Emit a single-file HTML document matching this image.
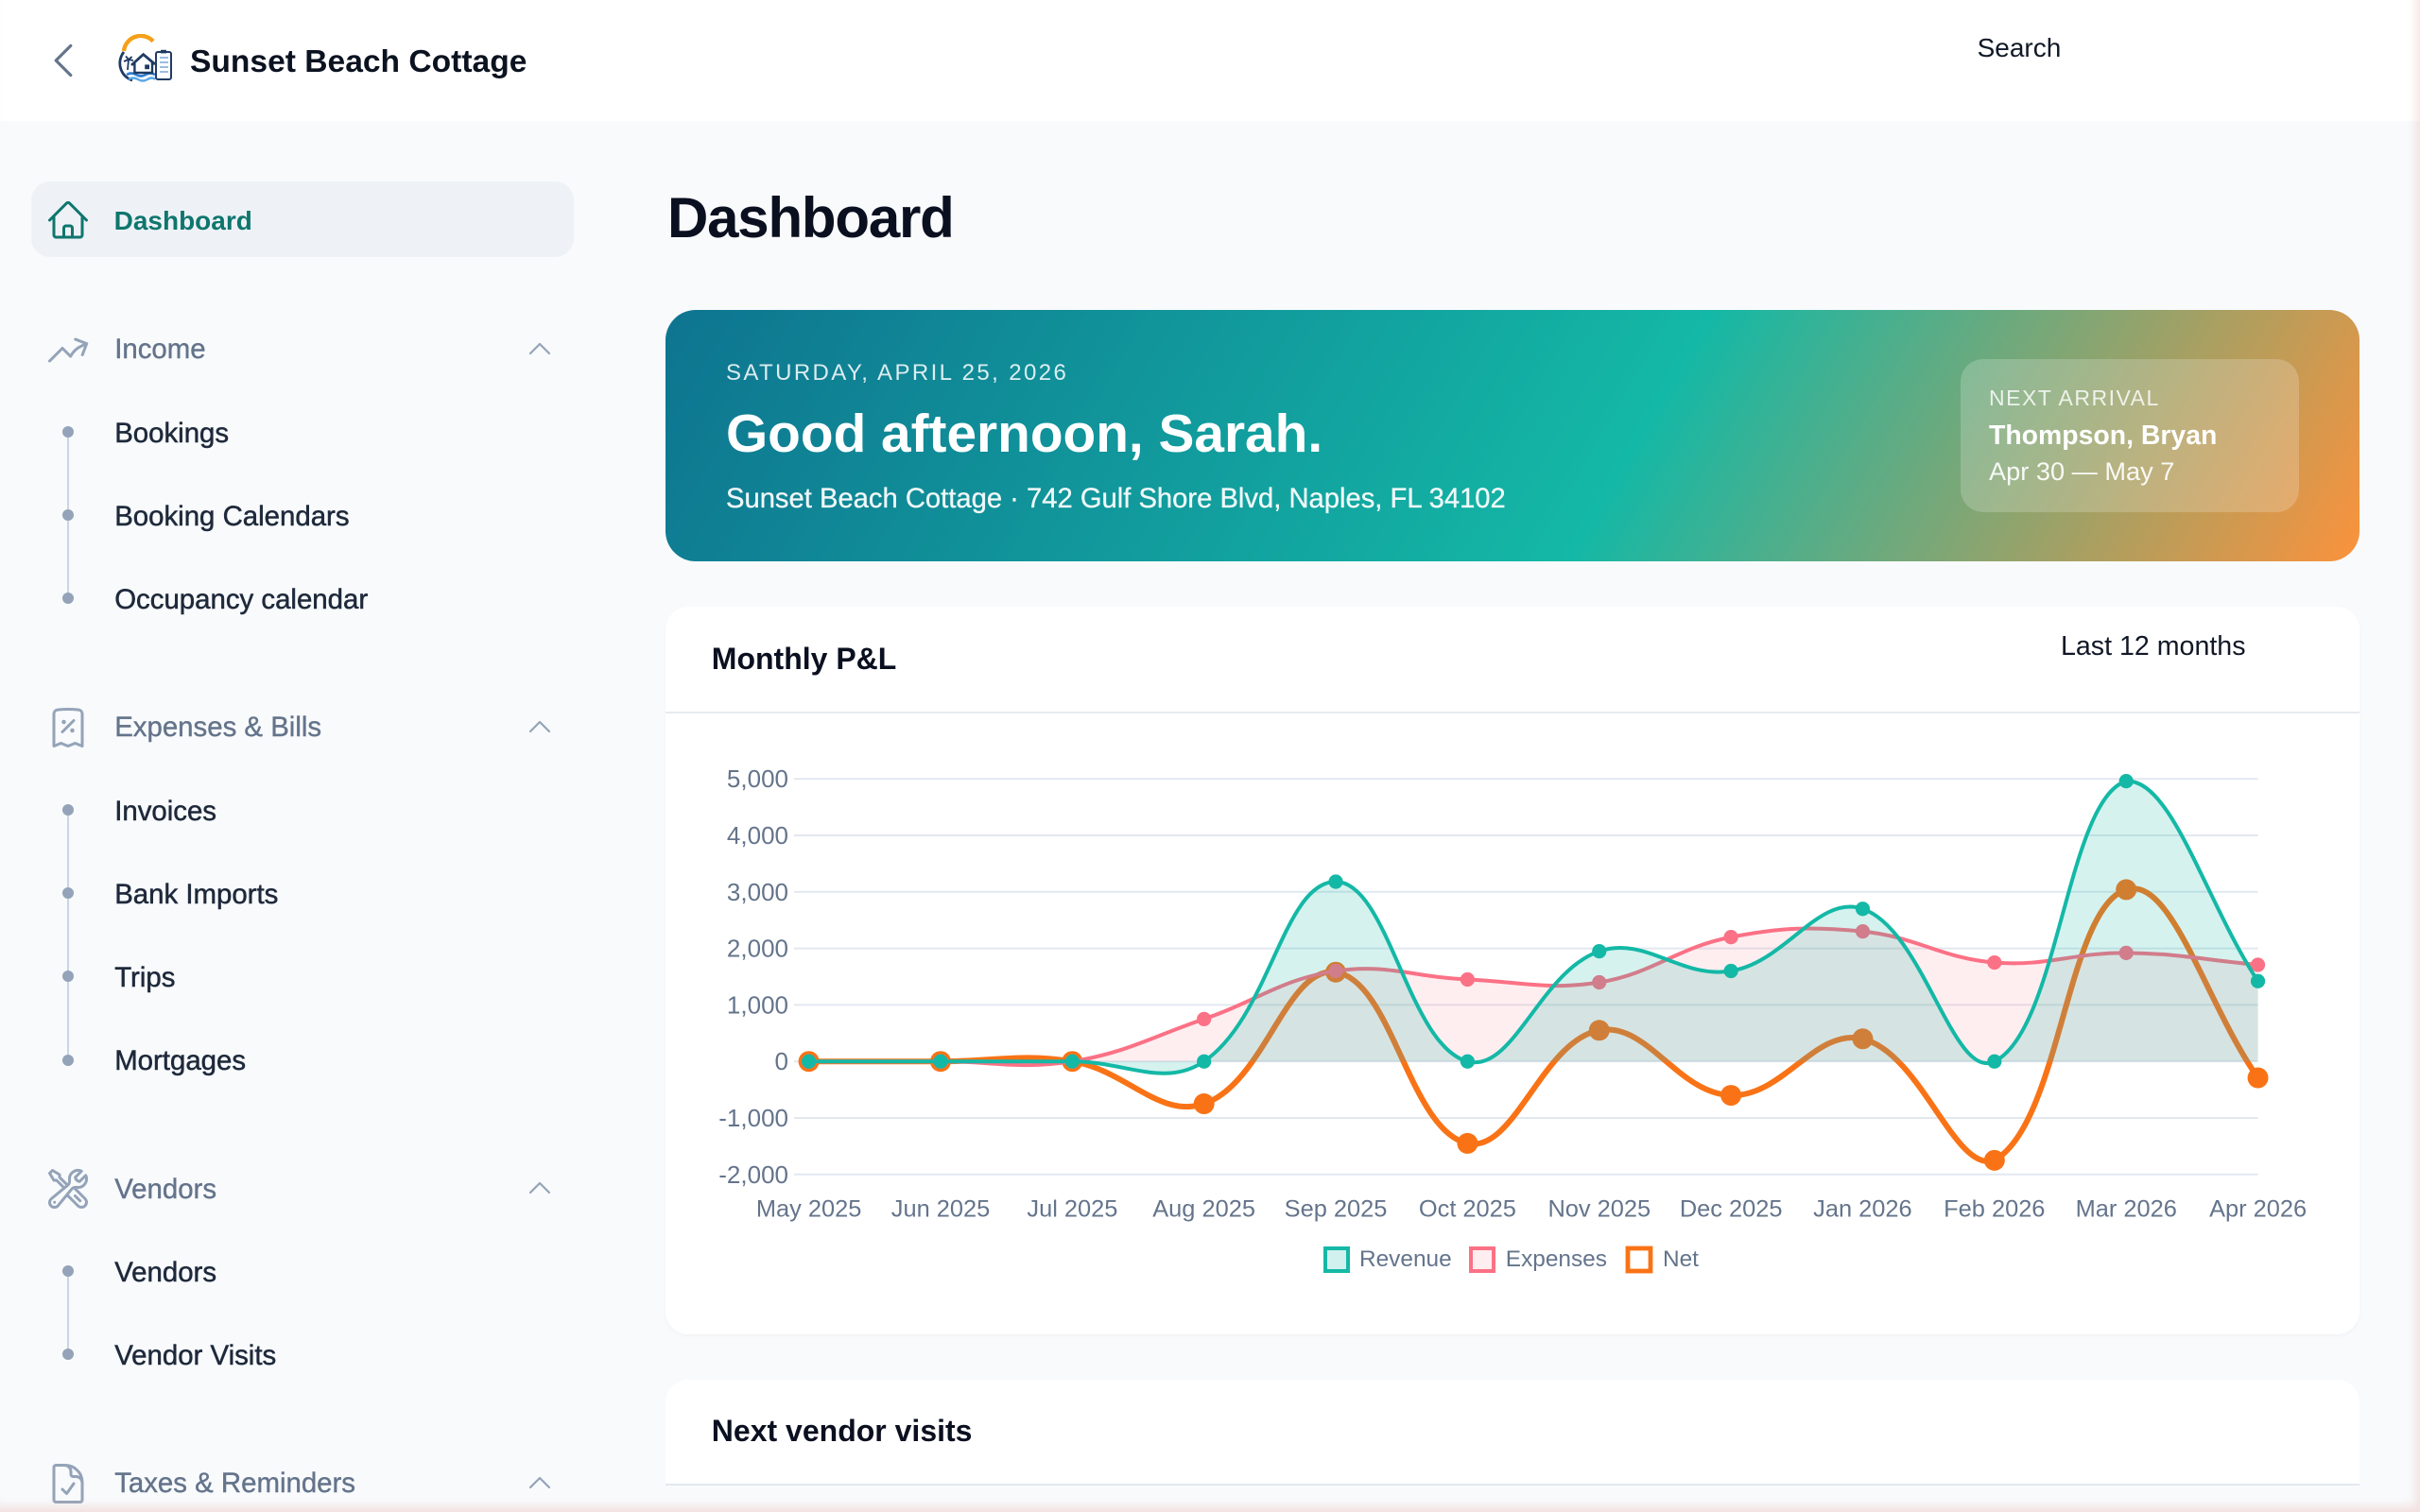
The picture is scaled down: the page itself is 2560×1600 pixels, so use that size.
<!DOCTYPE html>
<html><head><meta charset="utf-8">
<style>
html,body{margin:0;padding:0;width:2560px;height:1600px;overflow:hidden;background:#f8fafc;}
#root{position:relative;width:1280px;height:800px;zoom:2;font-family:"Liberation Sans",sans-serif;overflow:hidden;background:#f8fafc;}
.a{position:absolute;white-space:nowrap;}
.t{position:absolute;white-space:nowrap;line-height:20px;}
.hd{font-size:14.7px;color:#64748b;left:60.6px;-webkit-text-stroke:0.2px #64748b;}
.it{font-size:14.7px;color:#1e293b;left:60.6px;-webkit-text-stroke:0.25px #1e293b;}
.dot{position:absolute;left:33px;width:6px;height:6px;border-radius:50%;background:#94a3b8;}
.vl{position:absolute;left:35.5px;width:1px;background:#cbd5e1;}
.ic{position:absolute;left:24px;}
.cv{position:absolute;left:277.7px;}
</style></head>
<body><div id="root">

<!-- header -->
<div class="a" style="left:0;top:0;width:1280px;height:64px;background:#fff"></div>
<svg class="a" style="left:21px;top:19.5px" width="25" height="25" viewBox="0 0 24 24" fill="none" stroke="#64748b" stroke-width="1.5" stroke-linecap="round" stroke-linejoin="round"><path d="M15.75 19.5 8.25 12l7.5-7.5"/></svg>
<svg class="a" style="left:60px;top:18px" width="36" height="30" viewBox="60 18 36 30" fill="none">
 <path d="M65.5 27 A 9 9 0 0 1 81 21.8" stroke="#f6a01a" stroke-width="2.2"/>
 <path d="M65.5 27.5 A 9.5 9.5 0 0 0 70 42.5" stroke="#1f3b63" stroke-width="1.4"/>
 <path d="M67 39.5 q2.5 -1.5 5 0 t5 0 t5 0" stroke="#2f80d1" stroke-width="1.3"/>
 <path d="M68 42 q2.5 -1.5 5 0 t5 0 t4 0" stroke="#5aa9e6" stroke-width="1.2"/>
 <path d="M69.5 34.5 L75.8 28.8 L82 34" stroke="#1f3b63" stroke-width="1.4"/>
 <path d="M71.2 33.5 V38.5 H80.5 V33" stroke="#1f3b63" stroke-width="1.2"/>
 <rect x="76.6" y="34.2" width="2.4" height="2.4" fill="#1f3b63"/>
 <rect x="82.5" y="27.5" width="8" height="14.5" rx="1" stroke="#1f3b63" stroke-width="1" fill="#fff"/>
 <rect x="85" y="26.4" width="3" height="1.8" fill="#1f3b63"/>
 <path d="M84.5 30.5h4.5M84.5 33h4.5M84.5 35.5h4.5M84.5 38h4.5" stroke="#7aa7d8" stroke-width="0.7"/>
 <path d="M67.5 37 L68 31.5 M68 31.5 l-2.5 1 M68 31.5 l2.5 0.5 M68 31.5 l-1.5 -1.8 M68 31.5 l1.8 -1.5" stroke="#1f3b63" stroke-width="0.9"/>
</svg>
<div class="t" style="left:100.5px;top:22.9px;font-size:16.8px;font-weight:700;color:#0b1220">Sunset Beach Cottage</div>
<div class="t" style="left:1045.8px;top:15.5px;font-size:14px;color:#111827">Search</div>

<!-- sidebar -->
<div class="a" style="left:16.3px;top:96px;width:287.3px;height:40px;background:#eef2f7;border-radius:10px"></div>
<svg class="ic" style="top:104.5px" width="24" height="24" viewBox="0 0 24 24" fill="none" stroke="#0f766e" stroke-width="1.5" stroke-linecap="round" stroke-linejoin="round"><path d="m2.25 12 8.954-8.955c.44-.439 1.152-.439 1.591 0L21.75 12M4.5 9.75v10.125c0 .621.504 1.125 1.125 1.125H9.75v-4.875c0-.621.504-1.125 1.125-1.125h2.25c.621 0 1.125.504 1.125 1.125V21h4.125c.621 0 1.125-.504 1.125-1.125V9.75M8.25 21h8.25"/></svg>
<div class="t" style="left:60.3px;top:106.8px;font-size:14px;font-weight:700;color:#0f766e">Dashboard</div>

<!-- Income -->
<svg class="ic" style="top:173px" width="24" height="24" viewBox="0 0 24 24" fill="none" stroke="#94a3b8" stroke-width="1.5" stroke-linecap="round" stroke-linejoin="round"><path d="M2.25 18 9 11.25l4.306 4.306a11.95 11.95 0 0 1 5.814-5.518l2.74-1.22m0 0-5.94-2.281m5.94 2.28-2.28 5.941"/></svg>
<div class="t hd" style="top:175.2px">Income</div>
<svg class="cv" style="top:176.5px" width="16" height="16" viewBox="0 0 24 24" fill="none" stroke="#94a3b8" stroke-width="1.6" stroke-linecap="round" stroke-linejoin="round"><path d="m4.5 15.75 7.5-7.5 7.5 7.5"/></svg>
<div class="vl" style="top:228.6px;height:88.1px"></div>
<div class="dot" style="top:225.6px"></div><div class="t it" style="top:219.4px">Bookings</div>
<div class="dot" style="top:269.6px"></div><div class="t it" style="top:263.4px">Booking Calendars</div>
<div class="dot" style="top:313.7px"></div><div class="t it" style="top:307.5px">Occupancy calendar</div>

<!-- Expenses -->
<svg class="ic" style="top:372.8px" width="24" height="24" viewBox="0 0 24 24" fill="none" stroke="#94a3b8" stroke-width="1.5" stroke-linecap="round" stroke-linejoin="round"><path d="m9 14.25 6-6m4.5-3.493V21.75l-3.75-1.5-3.75 1.5-3.750-1.5-3.75 1.5V4.757c0-1.108.806-2.057 1.907-2.185a48.507 48.507 0 0 1 11.186 0c1.1.128 1.907 1.077 1.907 2.185ZM9.75 9h.008v.008H9.75V9Zm.375 0a.375.375 0 1 1-.75 0 .375.375 0 0 1 .75 0Zm4.125 4.5h.008v.008h-.008V13.5Zm.375 0a.375.375 0 1 1-.75 0 .375.375 0 0 1 .75 0Z"/></svg>
<div class="t hd" style="top:375.2px">Expenses &amp; Bills</div>
<svg class="cv" style="top:376.5px" width="16" height="16" viewBox="0 0 24 24" fill="none" stroke="#94a3b8" stroke-width="1.6" stroke-linecap="round" stroke-linejoin="round"><path d="m4.5 15.75 7.5-7.5 7.5 7.5"/></svg>
<div class="vl" style="top:428.6px;height:132.2px"></div>
<div class="dot" style="top:425.6px"></div><div class="t it" style="top:419.4px">Invoices</div>
<div class="dot" style="top:469.6px"></div><div class="t it" style="top:463.4px">Bank Imports</div>
<div class="dot" style="top:513.7px"></div><div class="t it" style="top:507.5px">Trips</div>
<div class="dot" style="top:557.8px"></div><div class="t it" style="top:551.6px">Mortgages</div>

<!-- Vendors -->
<svg class="ic" style="top:617px" width="24" height="24" viewBox="0 0 24 24" fill="none" stroke="#94a3b8" stroke-width="1.5" stroke-linecap="round" stroke-linejoin="round"><path d="M11.42 15.17 17.25 21A2.652 2.652 0 0 0 21 17.25l-5.877-5.877M11.42 15.17l2.496-3.03c.317-.384.74-.626 1.208-.766M11.42 15.17l-4.655 5.653a2.548 2.548 0 1 1-3.586-3.586l6.837-5.63m5.108-.233c.55-.164 1.163-.188 1.743-.14a4.5 4.5 0 0 0 4.486-6.336l-3.276 3.277a3.004 3.004 0 0 1-2.25-2.25l3.276-3.276a4.5 4.5 0 0 0-6.336 4.486c.091 1.076-.071 2.264-.904 2.950l-.102.085m-1.745 1.437L5.909 7.5H4.5L2.250 3.75l1.5-1.5L7.5 4.5v1.409l4.26 4.26m-1.745 1.437 1.745-1.437m6.615 8.206L15.75 15.75M4.867 19.125h.008v.008h-.008v-.008Z"/></svg>
<div class="t hd" style="top:619.3px">Vendors</div>
<svg class="cv" style="top:620.6px" width="16" height="16" viewBox="0 0 24 24" fill="none" stroke="#94a3b8" stroke-width="1.6" stroke-linecap="round" stroke-linejoin="round"><path d="m4.5 15.75 7.5-7.5 7.5 7.5"/></svg>
<div class="vl" style="top:672.6px;height:44.1px"></div>
<div class="dot" style="top:669.6px"></div><div class="t it" style="top:663.4px">Vendors</div>
<div class="dot" style="top:713.7px"></div><div class="t it" style="top:707.5px">Vendor Visits</div>

<!-- Taxes -->
<svg class="ic" style="top:773px" width="24" height="24" viewBox="0 0 24 24" fill="none" stroke="#94a3b8" stroke-width="1.5" stroke-linecap="round" stroke-linejoin="round"><path d="M10.125 2.25h-4.5c-.621 0-1.125.504-1.125 1.125v17.25c0 .621.504 1.125 1.125 1.125h12.75c.621 0 1.125-.504 1.125-1.125v-9M10.125 2.25h.375a9 9 0 0 1 9 9v.375M10.125 2.25A3.375 3.375 0 0 1 13.5 5.625v1.5c0 .621.504 1.125 1.125 1.125h1.5a3.375 3.375 0 0 1 3.375 3.375M9 15l2.25 2.25L15 12"/></svg>
<div class="t hd" style="top:775.2px">Taxes &amp; Reminders</div>
<svg class="cv" style="top:776.5px" width="16" height="16" viewBox="0 0 24 24" fill="none" stroke="#94a3b8" stroke-width="1.6" stroke-linecap="round" stroke-linejoin="round"><path d="m4.5 15.75 7.5-7.5 7.5 7.5"/></svg>

<!-- main -->
<div class="a" style="left:353px;top:97.5px;line-height:36px;font-size:30px;font-weight:700;letter-spacing:-0.6px;color:#0b1020">Dashboard</div>

<div class="a" style="left:352px;top:164px;width:896px;height:133px;border-radius:16px;background:linear-gradient(120deg,#0e7490 0%,#14b8a6 57%,#fb923c 100%)"></div>
<div class="t" style="left:384px;top:187.5px;font-size:12px;letter-spacing:1.2px;color:rgba(255,255,255,0.85)">SATURDAY, APRIL 25, 2026</div>
<div class="a" style="left:384px;top:212.8px;line-height:34px;font-size:28.4px;font-weight:700;color:#fff">Good afternoon, Sarah.</div>
<div class="t" style="left:384px;top:253.8px;font-size:14.6px;color:rgba(255,255,255,0.93);-webkit-text-stroke:0.15px rgba(255,255,255,0.9)">Sunset Beach Cottage · 742 Gulf Shore Blvd, Naples, FL 34102</div>
<div class="a" style="left:1037px;top:190px;width:179px;height:81px;border-radius:12px;background:rgba(255,255,255,0.2)"></div>
<div class="t" style="left:1052px;top:200.5px;font-size:11.5px;letter-spacing:0.75px;color:rgba(255,255,255,0.82)">NEXT ARRIVAL</div>
<div class="t" style="left:1052px;top:220.6px;font-size:14.2px;font-weight:700;color:#fff">Thompson, Bryan</div>
<div class="t" style="left:1052px;top:239.4px;font-size:13.6px;color:rgba(255,255,255,0.92)">Apr 30 — May 7</div>

<!-- P&L card -->
<div class="a" style="left:352px;top:321px;width:896px;height:385px;border-radius:12px;background:#fff;box-shadow:0 1px 2px rgba(15,23,42,0.03)"></div>
<div class="a" style="left:352px;top:376.5px;width:896px;height:1px;background:#e6eaf0"></div>
<div class="t" style="left:376.4px;top:338.6px;font-size:16px;font-weight:700;color:#0b1020">Monthly P&amp;L</div>
<div class="t" style="left:1090px;top:332px;font-size:14.3px;color:#111827">Last 12 months</div>

<!-- vendor card -->
<div class="a" style="left:352px;top:730px;width:896px;height:100px;border-radius:12px;background:#fff"></div>
<div class="t" style="left:376.4px;top:747px;font-size:16px;font-weight:700;color:#0b1020">Next vendor visits</div>
<div class="a" style="left:352px;top:785px;width:896px;height:1px;background:#e2e8f0"></div>
<div class="a" style="left:352px;top:786px;width:896px;height:20px;background:#f8fafc"></div>

<svg class="a" id="chart" style="left:0;top:0;overflow:visible" width="1280" height="800" viewBox="0 0 1280 800" font-family="Liberation Sans, sans-serif">
 <g stroke="#e2e8f0" stroke-width="1">
  <line x1="420" x2="1194.3" y1="412.1" y2="412.1"/>
  <line x1="420" x2="1194.3" y1="442" y2="442"/>
  <line x1="420" x2="1194.3" y1="471.9" y2="471.9"/>
  <line x1="420" x2="1194.3" y1="501.8" y2="501.8"/>
  <line x1="420" x2="1194.3" y1="531.7" y2="531.7"/>
  <line x1="420" x2="1194.3" y1="561.6" y2="561.6"/>
  <line x1="420" x2="1194.3" y1="591.5" y2="591.5"/>
  <line x1="420" x2="1194.3" y1="621.4" y2="621.4"/>
 </g>
 <g fill="#64748b" font-size="13" text-anchor="end" dominant-baseline="central">
  <text x="417" y="412.1">5,000</text>
  <text x="417" y="442">4,000</text>
  <text x="417" y="471.9">3,000</text>
  <text x="417" y="501.8">2,000</text>
  <text x="417" y="531.7">1,000</text>
  <text x="417" y="561.6">0</text>
  <text x="417" y="591.5">-1,000</text>
  <text x="417" y="621.4">-2,000</text>
 </g>
 <g fill="#64748b" font-size="12.7" text-anchor="middle" dominant-baseline="central">
  <text x="427.8" y="639.7">May 2025</text>
  <text x="497.5" y="639.7">Jun 2025</text>
  <text x="567.2" y="639.7">Jul 2025</text>
  <text x="636.8" y="639.7">Aug 2025</text>
  <text x="706.5" y="639.7">Sep 2025</text>
  <text x="776.2" y="639.7">Oct 2025</text>
  <text x="845.9" y="639.7">Nov 2025</text>
  <text x="915.6" y="639.7">Dec 2025</text>
  <text x="985.2" y="639.7">Jan 2026</text>
  <text x="1054.9" y="639.7">Feb 2026</text>
  <text x="1124.6" y="639.7">Mar 2026</text>
  <text x="1194.3" y="639.7">Apr 2026</text>
 </g>
 <g id="series"></g>
 <g font-size="12.2" fill="#64748b" dominant-baseline="central">
  <rect x="701" y="660.5" width="12" height="12" fill="rgba(20,184,166,0.2)" stroke="#14b8a6" stroke-width="2"/>
  <text x="719" y="666.3">Revenue</text>
  <rect x="778" y="660.5" width="12" height="12" fill="rgba(251,113,133,0.12)" stroke="#fb7185" stroke-width="2"/>
  <text x="796.4" y="666.3">Expenses</text>
  <rect x="861" y="660.5" width="12" height="12" fill="#fff" stroke="#f97316" stroke-width="2.4"/>
  <text x="879.5" y="666.3">Net</text>
 </g>
</svg>

<div class="a" style="left:0;top:0;width:1280px;height:800px;box-shadow:inset -3px -4px 5px -1px rgba(235,185,180,0.4);pointer-events:none"></div>
</div>
<script>
(function(){
var NS="http://www.w3.org/2000/svg";
var X0=427.8,DX=69.68,Y0=561.6,K=0.0299;
var area={l:427.8,r:1194.3,t:412.1,b:621.4};
var rev=[0,0,0,0,3180,0,1950,1600,2700,0,4960,1420];
var exp=[0,0,0,750,1600,1450,1400,2200,2300,1750,1920,1710];
var net=rev.map(function(r,i){return r-exp[i];});
function pts(d){return d.map(function(v,i){return {x:X0+i*DX,y:Y0-v*K};});}
function ctrl(p){
 var n=p.length,out=[];
 for(var i=0;i<n;i++){
  var a=p[Math.max(i-1,0)],b=p[i],c=p[Math.min(i+1,n-1)];
  var d01=Math.hypot(b.x-a.x,b.y-a.y),d12=Math.hypot(c.x-b.x,c.y-b.y);
  var s01=d01/(d01+d12),s12=d12/(d01+d12);
  if(!isFinite(s01))s01=0;if(!isFinite(s12))s12=0;
  var fa=0.4*s01,fb=0.4*s12;
  var pv={x:b.x-fa*(c.x-a.x),y:b.y-fa*(c.y-a.y)},nx={x:b.x+fb*(c.x-a.x),y:b.y+fb*(c.y-a.y)};
  [pv,nx].forEach(function(q){q.x=Math.min(Math.max(q.x,area.l),area.r);q.y=Math.min(Math.max(q.y,area.t),area.b);});
  out.push({pv:pv,nx:nx});
 }
 return out;
}
function path(p){
 var c=ctrl(p),d="M"+p[0].x+" "+p[0].y;
 for(var i=1;i<p.length;i++){d+=" C"+c[i-1].nx.x+" "+c[i-1].nx.y+" "+c[i].pv.x+" "+c[i].pv.y+" "+p[i].x+" "+p[i].y;}
 return d;
}
var g=document.getElementById("series");
function el(tag,attrs){var e=document.createElementNS(NS,tag);for(var k in attrs)e.setAttribute(k,attrs[k]);g.appendChild(e);return e;}
function series(data,color,fill,w,r){
 var p=pts(data),d=path(p);
 if(fill){el("path",{d:d+" L"+p[p.length-1].x+" "+Y0+" L"+p[0].x+" "+Y0+" Z",fill:fill,stroke:"none"});}
 el("path",{d:d,fill:"none",stroke:color,"stroke-width":w,"stroke-linejoin":"round","stroke-linecap":"round"});
 p.forEach(function(q){el("circle",{cx:q.x,cy:q.y,r:r,fill:color});});
}
series(net,"#f97316",null,3,5.5);
series(exp,"#fb7185","rgba(251,113,133,0.12)",2,3.8);
series(rev,"#14b8a6","rgba(20,184,166,0.18)",2,3.8);
})();
</script>
</body></html>
